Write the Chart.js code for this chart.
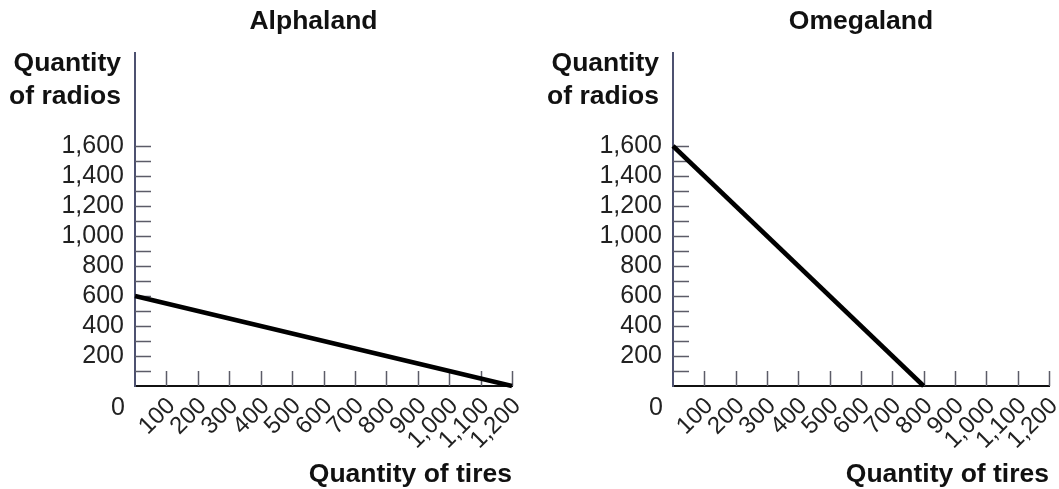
<!DOCTYPE html>
<html lang="en">
<head>
<meta charset="UTF-8">
<title>Alphaland and Omegaland</title>
<script src="https://cdn.jsdelivr.net/npm/chart.js"></script>
<style>
    body { margin: 0; background: #fff; }
    .panel { position: absolute; top: 0; }
</style>
</head>
<body>
<canvas id="alphaChart" class="panel" width="540" height="489" style="left:0"></canvas>
<canvas id="omegaChart" class="panel" width="519" height="489" style="left:540px"></canvas>

<script>
    // production possibilities
    const alphaTires = [0, 1200];
    const alphaRadios = [600, 0];
    const omegaTires = [0, 800];
    const omegaRadios = [1600, 0];

    // tick labels (marks every 100, y labels every 200)
    const xTickLabels = ['100', '200', '300', '400', '500', '600', '700', '800', '900', '1,000', '1,100', '1,200'];
    const yTickLabels = ['200', '400', '600', '800', '1,000', '1,200', '1,400', '1,600'];

    const FONT = '"Liberation Sans", Arial, Helvetica, sans-serif';

    // inner tick marks, titles and the shared 0
    const decorations = {
        id: 'decorations',
        beforeDatasetsDraw(chart) {
            const { ctx, scales: { x, y } } = chart;
            ctx.save();
            ctx.strokeStyle = '#5c5c68';
            ctx.lineWidth = 1.5;
            ctx.beginPath();
            x.ticks.forEach(t => {
                if (t.value >= 100 && t.value <= 1200) {
                    const px = Math.round(x.getPixelForValue(t.value)) + 0.5;
                    ctx.moveTo(px, y.bottom);
                    ctx.lineTo(px, y.bottom - 15);
                }
            });
            y.ticks.forEach(t => {
                if (t.value >= 100 && t.value <= 1600) {
                    const py = Math.round(y.getPixelForValue(t.value)) + 0.5;
                    ctx.moveTo(x.left, py);
                    ctx.lineTo(x.left + 16, py);
                }
            });
            ctx.stroke();
            ctx.restore();
        },
        afterDraw(chart, args, opts) {
            const { ctx, chartArea, scales: { x, y } } = chart;
            ctx.save();
            ctx.fillStyle = '#111';
            ctx.textBaseline = 'alphabetic';
            ctx.font = 'bold 26.5px ' + FONT;
            ctx.textAlign = 'center';
            ctx.fillText(opts.title, (chartArea.left + chartArea.right) / 2 + opts.titleShift, 29);
            ctx.textAlign = 'right';
            ctx.fillText('Quantity', chartArea.left - 14, 71);
            ctx.fillText('of radios', chartArea.left - 14, 104);
            ctx.fillText('Quantity of tires', chartArea.right, 482);
            ctx.font = '25px ' + FONT;
            ctx.textAlign = 'center';
            ctx.fillStyle = '#222';
            ctx.fillText('0', x.getPixelForValue(0) - 17, y.getPixelForValue(0) + 29);
            ctx.restore();
        }
    };

    function makeChart(id, tires, radios, title, titleShift, axisWidth, rightPad) {
        const ctx = document.getElementById(id).getContext('2d');
        return new Chart(ctx, {
            type: 'line',
            data: {
                datasets: [{
                    data: tires.map((t, i) => ({ x: t, y: radios[i] })),
                    borderColor: '#000',
                    borderWidth: 4.5,
                    pointRadius: 0,
                    fill: false,
                    tension: 0,
                    clip: false
                }]
            },
            options: {
                responsive: false,
                devicePixelRatio: 1,
                animation: false,
                layout: { padding: { left: 0, top: 53, right: rightPad, bottom: 0 } },
                plugins: {
                    legend: { display: false },
                    tooltip: { enabled: false },
                    decorations: { title: title, titleShift: titleShift }
                },
                scales: {
                    x: {
                        type: 'linear',
                        min: 0,
                        max: 1200,
                        afterFit(scale) {
                            scale.height = 103;
                            scale.paddingLeft = 0;
                            scale.paddingRight = 0;
                        },
                        grid: { drawOnChartArea: false, drawTicks: false },
                        border: { display: true, color: '#111', width: 2 },
                        ticks: {
                            stepSize: 100,
                            maxTicksLimit: 100,
                            autoSkip: false,
                            minRotation: 45,
                            maxRotation: 45,
                            padding: 6,
                            labelOffset: 5,
                            color: '#222',
                            font: { family: FONT, size: 24 },
                            callback: v => (v >= 100 ? xTickLabels[v / 100 - 1] : '')
                        }
                    },
                    y: {
                        type: 'linear',
                        min: 0,
                        max: 2220,
                        afterFit(scale) { scale.width = axisWidth; },
                        grid: { drawOnChartArea: false, drawTicks: false },
                        border: { display: true, color: '#4d5170', width: 2 },
                        ticks: {
                            stepSize: 100,
                            maxTicksLimit: 100,
                            autoSkip: false,
                            padding: 11,
                            color: '#222',
                            font: { family: FONT, size: 25 },
                            callback: v => (v % 200 === 0 && v >= 200 && v <= 1600 ? yTickLabels[v / 200 - 1] : '')
                        }
                    }
                }
            },
            plugins: [decorations]
        });
    }

    makeChart('alphaChart', alphaTires, alphaRadios, 'Alphaland', -10, 135, 28);
    makeChart('omegaChart', omegaTires, omegaRadios, 'Omegaland', 0, 133, 10);
</script>
</body>
</html>
